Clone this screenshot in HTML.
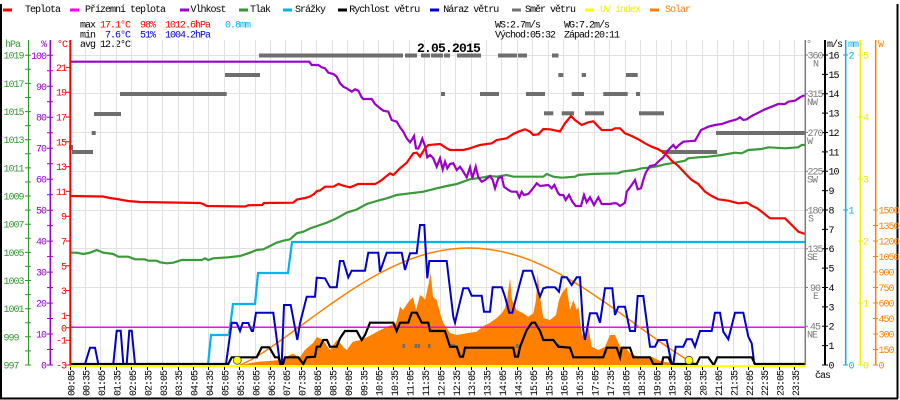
<!DOCTYPE html>
<html><head><meta charset="utf-8"><style>
html,body{margin:0;padding:0;background:#fff;}
svg{display:block;}
.t{font-family:"Liberation Mono","DejaVu Sans Mono",monospace;font-size:10px;letter-spacing:-1px;}
.b{font-family:"Liberation Mono","DejaVu Sans Mono",monospace;font-size:13px;font-weight:bold;letter-spacing:-0.8px;}
</style></head><body>
<svg width="900" height="400" viewBox="0 0 900 400" xmlns="http://www.w3.org/2000/svg">
<rect width="900" height="400" fill="#fff"/>
<!-- frame -->
<path d="M1 4V399M897.5 4V398.5M0 398.5H898" stroke="#000" stroke-width="2" fill="none"/>

<!-- legend -->
<g class="t">
<rect x="3" y="8.5" width="9" height="3" fill="#ff0000"/><text x="25" y="12">Teplota</text>
<rect x="70" y="8.5" width="9" height="3" fill="#ff00ff"/><text x="85" y="12">Přízemní teplota</text>
<rect x="180" y="8.5" width="9" height="3" fill="#9900cc"/><text x="190.5" y="12">Vlhkost</text>
<rect x="239" y="8.5" width="9" height="3" fill="#339933"/><text x="250" y="12">Tlak</text>
<rect x="283" y="8.5" width="9" height="3" fill="#00b0f0"/><text x="295" y="12">Srážky</text>
<rect x="338" y="8.5" width="9" height="3" fill="#000"/><text x="349.3" y="12">Rychlost větru</text>
<rect x="430" y="8.5" width="9" height="3" fill="#0000cc"/><text x="443.3" y="12">Náraz větru</text>
<rect x="512" y="8.5" width="9" height="3" fill="#707070"/><text x="525" y="12">Směr větru</text>
<rect x="585" y="8.5" width="9" height="3" fill="#ffff00"/><text x="600" y="12" fill="#f0f000">UV index</text>
<rect x="650" y="8.5" width="9" height="3" fill="#ff8000"/><text x="665" y="12" fill="#ff8000">Solar</text>

<text x="80" y="27.5">max</text><text x="100" y="27.5" fill="#ff0000">17.1°C</text><text x="140" y="27.5" fill="#ff0000">98%</text><text x="165" y="27.5" fill="#ff0000">1012.6hPa</text><text x="225" y="27.5" fill="#00b0f0">0.8mm</text>
<text x="80" y="37.5">min</text><text x="105" y="37.5" fill="#0000dd">7.6°C</text><text x="140" y="37.5" fill="#0000dd">51%</text><text x="165" y="37.5" fill="#0000dd">1004.2hPa</text>
<text x="80" y="47">avg 12.2°C</text>
<text x="495" y="27.5">WS:2.7m/s</text><text x="564" y="27.5">WG:7.2m/s</text>
<text x="495" y="37.5">Východ:05:32</text><text x="564" y="37.5">Západ:20:11</text>
</g>

<!-- grid -->
<g stroke="#e2e2e2" stroke-width="1" fill="none">
<path d="M85.5 40V365M100.5 40V365M116.5 40V365M131.5 40V365M147.5 40V365M162.5 40V365M178.5 40V365M193.5 40V365M208.5 40V365M224.5 40V365M239.5 40V365M255.5 40V365M270.5 40V365M285.5 40V365M301.5 40V365M316.5 40V365M332.5 40V365M347.5 40V365M363.5 40V365M378.5 40V365M393.5 40V365M409.5 40V365M424.5 40V365M440.5 40V365M455.5 40V365M471.5 40V365M486.5 40V365M501.5 40V365M517.5 40V365M532.5 40V365M548.5 40V365M563.5 40V365M578.5 40V365M594.5 40V365M609.5 40V365M625.5 40V365M640.5 40V365M656.5 40V365M671.5 40V365M686.5 40V365M702.5 40V365M717.5 40V365M733.5 40V365M748.5 40V365M763.5 40V365M779.5 40V365M794.5 40V365"/>
<path d="M70 55.5H805M70 93.5H805M70 132.5H805M70 171.5H805M70 210.5H805M70 248.5H805M70 287.5H805"/>
</g>

<!-- solar fill -->
<polygon fill="#ff8000" points="240,365 246,364 250,363 260,361.5 270,361 280,360 287,356.5 293,353.5 297,356 300,357 304,351 307,348 313,343 317,337 323,340 327,346 330,350 334,344 337,340 341,344 344,348 347,350 351,344 353,341.7 360,340 368,336.7 377,331.7 387,326.7 396,323 398,316 400,306.7 403,310 407,304 410,300 413,297.3 416,310 418,303 420,295 423,297 425,300 428,286.7 430.7,273.3 433,296.7 436.7,300 440,313 443.3,323 450,333 456.7,335 466.7,333.3 476.7,331.7 483.3,326 490,322.7 496.7,318 501.7,313.3 505,308 507,300 510,278.3 512,300 516.7,310 523.3,313.3 528.3,316.7 533.3,313.3 536,300 537.7,273.3 540,296.7 543.3,318 550,320 556,315 559,300 562,293 566.7,287 570,310 573.3,300 576.7,310 578.3,306.7 581.7,333 585,340 588.3,326.7 591.7,346.7 598.3,350 605,346.7 610,335 615,335 620,346.7 625,346.7 630,353.3 638.3,356.7 651.7,356.7 661.7,361.7 681.7,363.3 688,365"/>

<!-- wind direction bars -->
<g fill="#6e6e6e">
<rect x="259" y="53.5" width="144" height="4"/><rect x="405" y="53.5" width="12" height="4"/><rect x="421" y="53.5" width="9" height="4"/><rect x="431" y="53.5" width="12" height="4"/><rect x="444" y="53.5" width="6" height="4"/><rect x="457" y="53.5" width="24" height="4"/><rect x="498" y="53.5" width="19" height="4"/><rect x="518" y="53.5" width="9" height="4"/><rect x="552" y="53.5" width="6.5" height="4"/>
<rect x="225" y="73" width="35" height="4"/><rect x="558.3" y="73" width="5" height="4"/><rect x="581.7" y="73" width="4.3" height="4"/><rect x="626" y="73" width="11.7" height="4"/>
<rect x="120" y="92" width="106.7" height="4"/><rect x="441" y="92" width="4" height="4"/><rect x="480" y="92" width="19" height="4"/><rect x="526" y="92" width="19" height="4"/><rect x="571.7" y="92" width="12.3" height="4"/><rect x="603.3" y="92" width="24.4" height="4"/><rect x="636" y="92" width="4" height="4"/>
<rect x="94" y="112" width="27" height="4"/><rect x="544" y="111.3" width="9.3" height="4"/><rect x="561.7" y="111.3" width="12.3" height="4"/><rect x="585" y="111.3" width="19" height="4"/><rect x="639" y="111.3" width="25" height="4"/>
<rect x="91.7" y="131" width="4" height="4"/><rect x="716" y="131" width="89" height="4"/>
<rect x="69" y="145" width="4" height="5"/><rect x="72" y="150" width="21" height="4"/><rect x="662" y="150" width="55" height="4"/>
<rect x="402.5" y="344" width="2.5" height="4"/><rect x="414.5" y="344" width="2.5" height="4"/><rect x="417.5" y="344" width="2.5" height="4"/><rect x="428" y="344" width="2.5" height="4"/><rect x="449.5" y="344" width="2.5" height="4"/><rect x="452.5" y="344" width="2.5" height="4"/><rect x="516" y="344" width="2.5" height="4"/><rect x="557" y="344" width="2.5" height="4"/>
</g>

<!-- 0 C line -->
<path d="M70 327.3H805" stroke="#ff00ff" stroke-width="1.5"/>

<!-- solar theoretical -->
<polyline fill="none" stroke="#ff8000" stroke-width="1.5" points="240,365 250,360.4 260,354.5 270,347.9 280,340.9 290,333.7 300,326.4 310,319 320,311.8 330,304.6 340,297.7 350,291 360,284.6 370,278.6 380,273 390,267.9 400,263.4 410,259.3 420,255.9 430,253 440,250.8 450,249.2 460,248.3 469,248 480,248.4 490,249.5 500,251.2 510,253.6 520,256.5 530,260.1 540,264.3 550,268.9 560,274.1 570,279.8 580,285.8 590,292.2 600,299 610,305.9 620,313 630,320.2 640,327.5 650,334.7 660,341.9 670,348.8 680,355.3 690,361.5 698,365"/>

<!-- rain -->
<polyline fill="none" stroke="#00b4f0" stroke-width="2.2" points="208,365 211,335 229,335 233,304 255,304 258,273 288,273 292,242 805,242"/>

<!-- pressure -->
<polyline fill="none" stroke="#3a9a3a" stroke-width="2.2" points="70,252.7 76.7,252.7 83.3,254 90,252.7 96.7,250 103.3,252.7 113.3,254 118.3,256.7 128.3,256.7 135,259.3 145,259.3 148.3,260.7 156.7,260.7 160,262.3 166.7,263.3 173.3,262.7 181.7,260 201.7,260 205,258.3 208.3,260 213.3,258.3 228.3,257.3 240,256 250,252.7 256.7,250 263.3,249.3 270,246 276.7,242.7 283.3,240.7 290,239.3 296.7,233.3 303.3,231.7 310,228.5 320,225 326.7,222.7 336.7,218.3 346.7,212.7 356.7,209.5 366.7,204 376.7,201 386.7,198.3 396.7,195 410,193.3 423.3,191.7 436.7,188.3 446.7,186 456.7,184 463.3,181.7 470,179.3 476.7,178.3 483.3,177.3 490,176 496.7,176.7 506.7,175 513.3,176.7 543.3,176.7 546.7,174 553.3,176.7 561.7,177.7 575,176.7 578.3,175 591.7,174 618.3,173.3 621.7,171.7 635,170 641.7,168.3 651.7,167.3 658.3,166 665,164.3 675,162.7 685,160.7 688.3,158.3 698.3,157.3 708.3,156.7 721.7,155 735,152.7 741.7,153.3 748.3,150 761.7,149 768.3,147.3 785,148.3 798.3,147.3 801.7,145 805,145"/>

<!-- humidity -->
<polyline fill="none" stroke="#9900cc" stroke-width="2.2" points="70,61.7 309.3,61.7 311.7,65 318.3,65 321.7,67.3 325,68.3 328.3,72.7 333.3,74 336.7,76.7 340,83.3 343.3,86.7 346.7,88.3 351.7,91.7 355,89.3 358.3,90.7 361.7,97.3 363.3,99 371.7,99 375,104 380,108.3 383.3,110.7 388.3,111.7 391.7,120 396.7,121.7 400,127.3 403.3,131.7 406.7,138.3 410,142.3 411.7,140 414,136 416,148.3 418.3,148.7 420,145 422.3,138.7 425,146 427.3,157.3 430,155 433.3,158.3 436.7,166.7 440,158.3 442.7,169.3 445,161.7 447.3,168.3 450,164 453.3,163.3 456.7,170 460,166.7 462.7,170.7 466.7,177.3 470,167.3 472.3,178.3 475.7,166.7 478.3,177.3 481.7,181.7 485,180 490,176 492.7,180 495,188.3 498.3,178.3 501.7,176.7 504,186.7 508.3,190 511.7,191.7 516.7,191.7 519.3,197.3 521.7,191.7 524,195 528.3,194 531.7,190 536.7,183.3 540,186 548.3,185 551.7,188.3 554.3,185 558.3,193.3 560,195 563.3,195 565.7,200 569,195 572.3,201.7 575.7,206 581,206 584,195 586.7,202.3 590,197.3 594,205 598.3,197.3 601.7,204 610,204 613.3,203.3 616.7,203.3 620,206 625,202.7 626.7,191.7 631.7,185 635,180 637.7,189.3 641,188.3 643.3,180 645.7,172.7 650,166 655,165 658.3,161.7 663.3,157.3 668.3,150 673.3,145 675.7,148.3 679,145 683.3,141.7 695,140.7 698.3,135 701,130 705,128.3 708.3,126.7 715,125 721.7,124 728.3,121.7 736.7,119.3 740,117.3 743.3,120 746.7,119.3 751.7,116 758.3,112.7 765,109.3 771.7,106.7 778.3,104 785,104 788.3,101.7 795,100.7 800,97.3 803.3,95.7 805,95.7"/>

<!-- temperature -->
<polyline fill="none" stroke="#ff0000" stroke-width="2.2" points="70,196 103,196.5 110,198 117,199 128,201 140,202 200,203 203,204 207,206 245,206.5 248,205.3 262,205 264,203 293,202.7 297,199.5 305,198 310,196.5 314,194 317,191 320,190.5 325,186.7 333.3,186.7 338.3,184 343.3,185.7 350,187.3 358.3,184 375,184 378.3,182.3 381.7,180 390,173.3 393.3,175 400,168.3 406.7,162.7 413.3,153.3 416.7,152.7 420,156.7 425,148.3 428.3,145 440,144 446.7,148.3 450,150 463.3,150 470,148.3 480,145 491.7,143.3 496.7,140 506.7,138.3 513.3,134 518.3,131.7 525,129.3 530,131.7 533.3,135 538.3,134.3 543.3,129 550,129.3 560,131.5 565,123.3 571,116 575,120 581.7,125 588.3,122.3 593.3,121.3 596.7,125 601.7,130 611.7,130 615,128.3 620,128.3 625,133.3 631.7,136 638.3,139.3 645,143.3 651.7,146.7 658.3,149.3 665,153.3 671.7,160.7 678.3,166 685,173.3 691.7,180 698.3,184 705,191.7 711.7,196 718.3,199.3 728.3,200.7 738.3,203.3 746.7,202.5 751.7,205.7 756.7,208 761.7,211.7 770,218.3 785,218.3 791.7,225 798.3,231.7 805,234"/>

<!-- wind gust -->
<polyline fill="none" stroke="#0000cc" stroke-width="2" points="70,364 85,364 90,347.7 95,347.7 98.3,364 113.3,364 116.7,330.7 120.7,330.7 123.3,364 126.7,364 129.3,330.7 131.7,330.7 135,364 226,364 231.7,322.7 236.7,323 240,331 242.7,323 248.3,323 251.7,331 253,331 256,312.7 273.3,312.7 280,364 281.7,364 284,305 290.7,305 297.3,340 300,323.3 306.7,296.7 315,296.7 316.7,277.7 325,278.3 330,287.3 336.7,287.3 340,261 343.3,261 348.3,277.3 351.7,270.7 365,270.7 368.3,252.7 378.3,252.7 380,271.7 386.7,252.7 401.7,252.7 405,270 410,253.3 416.7,253.3 420,225 424.3,225 427.3,278.3 429.3,261 446.7,261 453.3,316.7 455,322.7 463.3,288.3 468.3,288.3 471.7,295.7 481.7,295.7 484,311.7 490,311.7 492.7,287.3 501.7,287.3 505,296.7 509.3,312.7 512.3,312.7 518.3,289.3 523.3,270.7 531.7,270.7 540,296.7 543.3,288.3 546.7,287.3 555,287.3 559,291.7 561.7,277.3 566.7,277.3 571.7,285 576.7,277.3 580,277.3 583.3,330 585,340 590,313.3 596.7,313.3 600,322.7 605,288.3 612.3,288.3 615,315 618.3,306.7 625,306.7 630,331 635,331 637.7,296 643.3,296 650,346.7 655,346.7 658.3,340 666.7,340 671.7,364 673.3,364 675.7,346.7 683.3,346.7 686.7,339.3 691.7,339.3 695,346.7 700,331 711.7,331 715,312.7 720,312.7 723.3,331.7 728.3,339.3 735,312.7 743.3,312.7 748.3,336.7 751.7,343.3 754.3,364"/>

<!-- wind speed -->
<polyline fill="none" stroke="#000" stroke-width="2.2" points="70,364 228.3,364 231.7,357.3 256.7,357.3 261.7,347.3 269.3,347.3 275,357.3 278.3,357.3 280.7,364 283,364 285,357.3 298.3,357.3 303.3,364 306.7,357.3 315,356.7 316.7,346.7 320,346.7 323.3,340 327,340 330,346.7 336.7,346.7 340,338.3 345,331 356.7,331 361.7,340 365,335 370,322.7 393.3,322.7 396.7,331 400,322.7 408.3,322.7 411.7,312.7 416.7,312.7 421.7,322.7 428.3,322.7 430,331 445,331 450,346.7 456.7,346.7 460,356.7 463,356.7 465,347.7 513.3,347.7 515,356.7 518,356.7 520,347 526.7,330 531.7,322.7 535,322.7 540,331 543.3,340 553.3,340 558.3,346.7 570,347.7 573.3,357.3 603.3,357.3 606.7,347.7 616.7,347.7 620,357.3 621.7,347.7 630,347.7 633.3,357.3 650,357.3 653.3,364 661.7,364 663.3,357.3 668.3,357.3 671.7,364 696.7,364 700,357.3 708.3,357.3 713,364 714.3,364 717.3,357.3 751.7,357.3 755,364 805,364"/>

<!-- UV -->
<path d="M70 366.2H805" stroke="#ffff00" stroke-width="2"/>
<circle cx="237.3" cy="360.3" r="4" fill="#ffff00" stroke="#444" stroke-width="0.8"/>
<circle cx="689" cy="360.3" r="4" fill="#ffff00" stroke="#444" stroke-width="0.8"/>

<!-- bottom ticks -->
<path stroke="#000" stroke-width="1" d="M70.5 367v3M85.5 367v3M100.5 367v3M116.5 367v3M131.5 367v3M147.5 367v3M162.5 367v3M178.5 367v3M193.5 367v3M208.5 367v3M224.5 367v3M239.5 367v3M255.5 367v3M270.5 367v3M285.5 367v3M301.5 367v3M316.5 367v3M332.5 367v3M347.5 367v3M363.5 367v3M378.5 367v3M393.5 367v3M409.5 367v3M424.5 367v3M440.5 367v3M455.5 367v3M471.5 367v3M486.5 367v3M501.5 367v3M517.5 367v3M532.5 367v3M548.5 367v3M563.5 367v3M578.5 367v3M594.5 367v3M609.5 367v3M625.5 367v3M640.5 367v3M656.5 367v3M671.5 367v3M686.5 367v3M702.5 367v3M717.5 367v3M733.5 367v3M748.5 367v3M763.5 367v3M779.5 367v3M794.5 367v3"/>

<!-- left axes -->
<path d="M28.5 40V365" stroke="#339933" stroke-width="1.2"/>
<path d="M50.3 40V365" stroke="#9900cc" stroke-width="1.5"/>
<path d="M70.3 40V365" stroke="#ff0000" stroke-width="2"/>
<path stroke="#339933" stroke-width="1" d="M25 55.2h6M25 69.3h6M25 83.4h6M25 97.5h6M25 111.6h6M25 125.6h6M25 139.7h6M25 153.8h6M25 167.9h6M25 182h6M25 196h6M25 210.1h6M25 224.2h6M25 238.3h6M25 252.4h6M25 266.4h6M25 280.5h6M25 294.6h6M25 308.7h6M25 322.8h6M25 336.8h6M25 350.9h6M25 365h6"/>
<path stroke="#9900cc" stroke-width="1" d="M47 55.3h6M47 70.8h6M47 86.3h6M47 101.8h6M47 117.2h6M47 132.7h6M47 148.2h6M47 163.7h6M47 179.2h6M47 194.7h6M47 210.2h6M47 225.6h6M47 241.1h6M47 256.6h6M47 272.1h6M47 287.6h6M47 303.1h6M47 318.5h6M47 334h6M47 349.5h6M47 365h6"/>
<path stroke="#ff0000" stroke-width="1" d="M66 67.4h5M66 92.2h5M66 117h5M66 141.8h5M66 166.6h5M66 191.4h5M66 216.2h5M66 241h5M66 265.8h5M66 290.6h5M66 315.4h5M66 327.8h5M66 340.2h5M66 365h5"/>
<g class="t" fill="#339933">
<text x="5" y="47">hPa</text>
<text x="3.5" y="58.7">1019</text><text x="3.5" y="86.9">1017</text><text x="3.5" y="115.1">1015</text><text x="3.5" y="143.2">1013</text><text x="3.5" y="171.4">1011</text><text x="3.5" y="199.5">1009</text><text x="3.5" y="227.7">1007</text><text x="3.5" y="255.9">1005</text><text x="3.5" y="284">1003</text><text x="3.5" y="312.2">1001</text><text x="3.5" y="340.3">999</text><text x="3.5" y="368.5">997</text>
</g>
<g class="t" fill="#9900cc" text-anchor="end">
<text x="46" y="47">%</text>
<text x="46" y="58.8">100</text><text x="46" y="89.8">90</text><text x="46" y="120.7">80</text><text x="46" y="151.7">70</text><text x="46" y="182.7">60</text><text x="46" y="213.7">50</text><text x="46" y="244.6">40</text><text x="46" y="275.6">30</text><text x="46" y="306.6">20</text><text x="46" y="337.5">10</text><text x="46" y="368.5">0</text>
</g>
<g class="t" fill="#ff0000" text-anchor="end">
<text x="67" y="47">°C</text>
<text x="66" y="70.9">21</text><text x="66" y="95.7">19</text><text x="66" y="120.5">17</text><text x="66" y="145.3">15</text><text x="66" y="170.1">13</text><text x="66" y="194.9">11</text><text x="66" y="219.7">9</text><text x="66" y="244.5">7</text><text x="66" y="269.3">5</text><text x="66" y="294.1">3</text><text x="66" y="318.9">1</text><text x="66" y="331.3">0</text><text x="66" y="343.7">-1</text><text x="66" y="368.5">-3</text>
</g>

<!-- right axes -->
<path d="M805.3 40V365" stroke="#7a7a7a" stroke-width="1.5"/>
<path d="M825 40V365" stroke="#000" stroke-width="2"/>
<path d="M845.7 40V365" stroke="#00b0f0" stroke-width="1.5"/>
<path d="M860.3 40V365" stroke="#f0f000" stroke-width="1.5"/>
<path d="M875.7 40V365" stroke="#ff8000" stroke-width="1.5"/>
<path stroke="#7a7a7a" stroke-width="1" d="M805 55h3M805 93.75h3M805 132.5h3M805 171.25h3M805 210h3M805 248.75h3M805 287.5h3M805 326.25h3"/>
<path stroke="#000" stroke-width="1" d="M822 55h6M822 74.4h6M822 93.75h6M822 113.1h6M822 132.5h6M822 151.9h6M822 171.25h6M822 190.6h6M822 210h6M822 229.4h6M822 248.75h6M822 268.1h6M822 287.5h6M822 306.9h6M822 326.25h6M822 345.6h6M822 365h6"/>
<path stroke="#00b0f0" stroke-width="1" d="M843 55h5M843 210h5M843 365h5"/>
<path stroke="#f0f000" stroke-width="1" d="M858 55h5M858 117h5M858 179h5M858 241h5M858 303h5M858 365h5"/>
<path stroke="#ff8000" stroke-width="1" d="M873 210h5M873 225.5h5M873 241h5M873 256.5h5M873 272h5M873 287.5h5M873 303h5M873 318.5h5M873 334h5M873 349.5h5M873 365h5"/>
<g class="t" fill="#7a7a7a">
<text x="806" y="47">°</text>
<g text-anchor="middle">
<text x="815" y="58.5">360</text><text x="815" y="97.2">315</text><text x="815" y="136">270</text><text x="815" y="174.7">225</text><text x="815" y="213.5">180</text><text x="815" y="252.2">135</text><text x="815" y="291">90</text><text x="815" y="329.7">45</text>
</g>
<text x="813" y="66.5">N</text><text x="807" y="105.2">NW</text><text x="807" y="144">W</text><text x="807" y="182.7">SW</text><text x="808" y="221.5">S</text><text x="807" y="260.2">SE</text><text x="813" y="299">E</text><text x="807" y="337.7">NE</text>
</g>
<g class="t" fill="#000">
<text x="827" y="47">m/s</text>
<text x="828.5" y="58.5">16</text><text x="828.5" y="77.9">15</text><text x="828.5" y="97.2">14</text><text x="828.5" y="116.6">13</text><text x="828.5" y="136">12</text><text x="828.5" y="155.4">11</text><text x="828.5" y="174.7">10</text><text x="828.5" y="194.1">9</text><text x="828.5" y="213.5">8</text><text x="828.5" y="232.9">7</text><text x="828.5" y="252.2">6</text><text x="828.5" y="271.6">5</text><text x="828.5" y="291">4</text><text x="828.5" y="310.4">3</text><text x="828.5" y="329.7">2</text><text x="828.5" y="349.1">1</text><text x="828.5" y="368.5">0</text>
<text x="815" y="378">čas</text>
</g>
<g class="t" fill="#00b0f0">
<text x="848" y="47">mm</text>
<text x="848.5" y="58.5">2</text><text x="848.5" y="213.5">1</text><text x="848.5" y="368.5">0</text>
</g>
<g class="t" fill="#e8e800">
<text x="863" y="58.5">5</text><text x="863" y="120.5">4</text><text x="863" y="182.5">3</text><text x="863" y="244.5">2</text><text x="863" y="306.5">1</text><text x="863" y="368.5">0</text>
</g>
<g class="t" fill="#ff8000">
<text x="878" y="47">W</text>
<text x="878.5" y="213.5">1500</text><text x="878.5" y="229">1350</text><text x="878.5" y="244.5">1200</text><text x="878.5" y="260">1050</text><text x="878.5" y="275.5">900</text><text x="878.5" y="291">750</text><text x="878.5" y="306.5">600</text><text x="878.5" y="322">450</text><text x="878.5" y="337.5">300</text><text x="878.5" y="353">150</text><text x="878.5" y="368.5">0</text>
</g>

<!-- title -->
<text class="b" x="417" y="52" fill="#000">2.05.2015</text>

<!-- time labels -->
<g class="t" fill="#000">
<text transform="translate(74.3,396) rotate(-90)">00:05</text>
<text transform="translate(89.7,396) rotate(-90)">00:35</text>
<text transform="translate(105.1,396) rotate(-90)">01:05</text>
<text transform="translate(120.6,396) rotate(-90)">01:35</text>
<text transform="translate(136,396) rotate(-90)">02:05</text>
<text transform="translate(151.4,396) rotate(-90)">02:35</text>
<text transform="translate(166.8,396) rotate(-90)">03:05</text>
<text transform="translate(182.2,396) rotate(-90)">03:35</text>
<text transform="translate(197.7,396) rotate(-90)">04:05</text>
<text transform="translate(213.1,396) rotate(-90)">04:35</text>
<text transform="translate(228.5,396) rotate(-90)">05:05</text>
<text transform="translate(243.9,396) rotate(-90)">05:35</text>
<text transform="translate(259.3,396) rotate(-90)">06:05</text>
<text transform="translate(274.8,396) rotate(-90)">06:35</text>
<text transform="translate(290.2,396) rotate(-90)">07:05</text>
<text transform="translate(305.6,396) rotate(-90)">07:35</text>
<text transform="translate(321,396) rotate(-90)">08:05</text>
<text transform="translate(336.4,396) rotate(-90)">08:35</text>
<text transform="translate(351.9,396) rotate(-90)">09:05</text>
<text transform="translate(367.3,396) rotate(-90)">09:35</text>
<text transform="translate(382.7,396) rotate(-90)">10:05</text>
<text transform="translate(398.1,396) rotate(-90)">10:35</text>
<text transform="translate(413.5,396) rotate(-90)">11:05</text>
<text transform="translate(429,396) rotate(-90)">11:35</text>
<text transform="translate(444.4,396) rotate(-90)">12:05</text>
<text transform="translate(459.8,396) rotate(-90)">12:35</text>
<text transform="translate(475.2,396) rotate(-90)">13:05</text>
<text transform="translate(490.6,396) rotate(-90)">13:35</text>
<text transform="translate(506.1,396) rotate(-90)">14:05</text>
<text transform="translate(521.5,396) rotate(-90)">14:35</text>
<text transform="translate(536.9,396) rotate(-90)">15:05</text>
<text transform="translate(552.3,396) rotate(-90)">15:35</text>
<text transform="translate(567.7,396) rotate(-90)">16:05</text>
<text transform="translate(583.2,396) rotate(-90)">16:35</text>
<text transform="translate(598.6,396) rotate(-90)">17:05</text>
<text transform="translate(614,396) rotate(-90)">17:35</text>
<text transform="translate(629.4,396) rotate(-90)">18:05</text>
<text transform="translate(644.8,396) rotate(-90)">18:35</text>
<text transform="translate(660.3,396) rotate(-90)">19:05</text>
<text transform="translate(675.7,396) rotate(-90)">19:35</text>
<text transform="translate(691.1,396) rotate(-90)">20:05</text>
<text transform="translate(706.5,396) rotate(-90)">20:35</text>
<text transform="translate(721.9,396) rotate(-90)">21:05</text>
<text transform="translate(737.4,396) rotate(-90)">21:35</text>
<text transform="translate(752.8,396) rotate(-90)">22:05</text>
<text transform="translate(768.2,396) rotate(-90)">22:35</text>
<text transform="translate(783.6,396) rotate(-90)">23:05</text>
<text transform="translate(799,396) rotate(-90)">23:35</text>
</g>
</svg>
</body></html>
